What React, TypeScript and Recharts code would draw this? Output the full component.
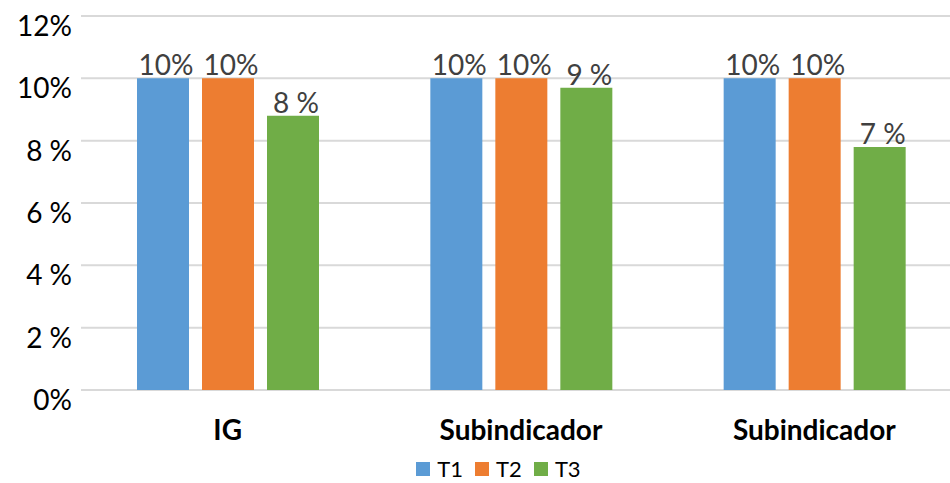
import React from 'react';
import { BarChart, Bar, XAxis, YAxis, CartesianGrid, Legend, LabelList } from 'recharts';

const categories = ['IG', 'Subindicador', 'Subindicador'];
const t1Values = [10, 10, 10];
const t2Values = [10, 10, 10];
const t3Values = [8.8, 9.7, 7.8];
const t1Labels = ['10%', '10%', '10%'];
const t2Labels = ['10%', '10%', '10%'];
const t3Labels = ['8 %', '9 %', '7 %'];
const yTicks = [0, 2, 4, 6, 8, 10, 12];
const yTickLabels = ['0%', '2 %', '4 %', '6 %', '8 %', '10%', '12%'];

const FONT = 'Lato, "Open Sans", sans-serif';

const data = categories.map((name, i) => ({
  name,
  T1: t1Values[i],
  T2: t2Values[i],
  T3: t3Values[i],
}));

const YTick = (props: any) => {
  const { x, y, payload } = props;
  const idx = yTicks.indexOf(payload.value);
  return (
    <text x={x - 1} y={y + 20} textAnchor="end" fontSize={28} fill="#000" fontFamily={FONT}>
      {yTickLabels[idx]}
    </text>
  );
};

const XTick = (props: any) => {
  const { x, y, payload } = props;
  return (
    <text x={x} y={y + 42} textAnchor="middle" fontSize={28} fontWeight="bold" fill="#000" fontFamily={FONT}>
      {payload.value}
    </text>
  );
};

const makeLabel = (labels: string[]) => (props: any) => {
  const { x, y, width, index } = props;
  return (
    <text x={x + width / 2 + 3} y={y - 3} textAnchor="middle" fontSize={28} fill="#404040" fontFamily={FONT}>
      {labels[index]}
    </text>
  );
};

const LegendContent = (props: any) => {
  const { payload } = props;
  return (
    <div style={{ display: 'flex', justifyContent: 'center', fontFamily: FONT, fontSize: 22, height: 38, paddingTop: 10, boxSizing: 'border-box', paddingLeft: 59 }}>
      {payload.map((entry: any) => (
        <div key={entry.value} style={{ display: 'flex', alignItems: 'flex-start', marginRight: 12 }}>
          <span style={{ width: 14, height: 14, background: entry.color, display: 'inline-block', marginTop: 7, marginRight: 7 }} />
          <span style={{ color: '#000', lineHeight: '26px', marginTop: 1 }}>{entry.value}</span>
        </div>
      ))}
    </div>
  );
};

export default function App() {
  return (
    <div style={{ position: 'absolute', left: 0, top: 0, width: 950, height: 483, background: '#fff', overflow: 'hidden' }}>
      <BarChart
        width={961}
        height={483}
        data={data}
        margin={{ top: 16, right: 0, bottom: 0, left: 0 }}
        barSize={52}
        barGap={13}
      >
        <CartesianGrid vertical={false} stroke="#d9d9d9" strokeWidth={2} />
        <XAxis dataKey="name" axisLine={false} tickLine={false} height={55} tick={<XTick />} interval={0} />
        <YAxis
          domain={[0, 12]}
          ticks={yTicks}
          axisLine={false}
          tickLine={false}
          width={81}
          tick={<YTick />}
          interval={0}
        />
        <Legend verticalAlign="bottom" content={<LegendContent />} wrapperStyle={{ width: 950 }} />
        <Bar dataKey="T1" fill="#5b9bd5" isAnimationActive={false}>
          <LabelList dataKey="T1" content={makeLabel(t1Labels)} />
        </Bar>
        <Bar dataKey="T2" fill="#ed7d31" isAnimationActive={false}>
          <LabelList dataKey="T2" content={makeLabel(t2Labels)} />
        </Bar>
        <Bar dataKey="T3" fill="#70ad47" isAnimationActive={false}>
          <LabelList dataKey="T3" content={makeLabel(t3Labels)} />
        </Bar>
      </BarChart>
    </div>
  );
}
